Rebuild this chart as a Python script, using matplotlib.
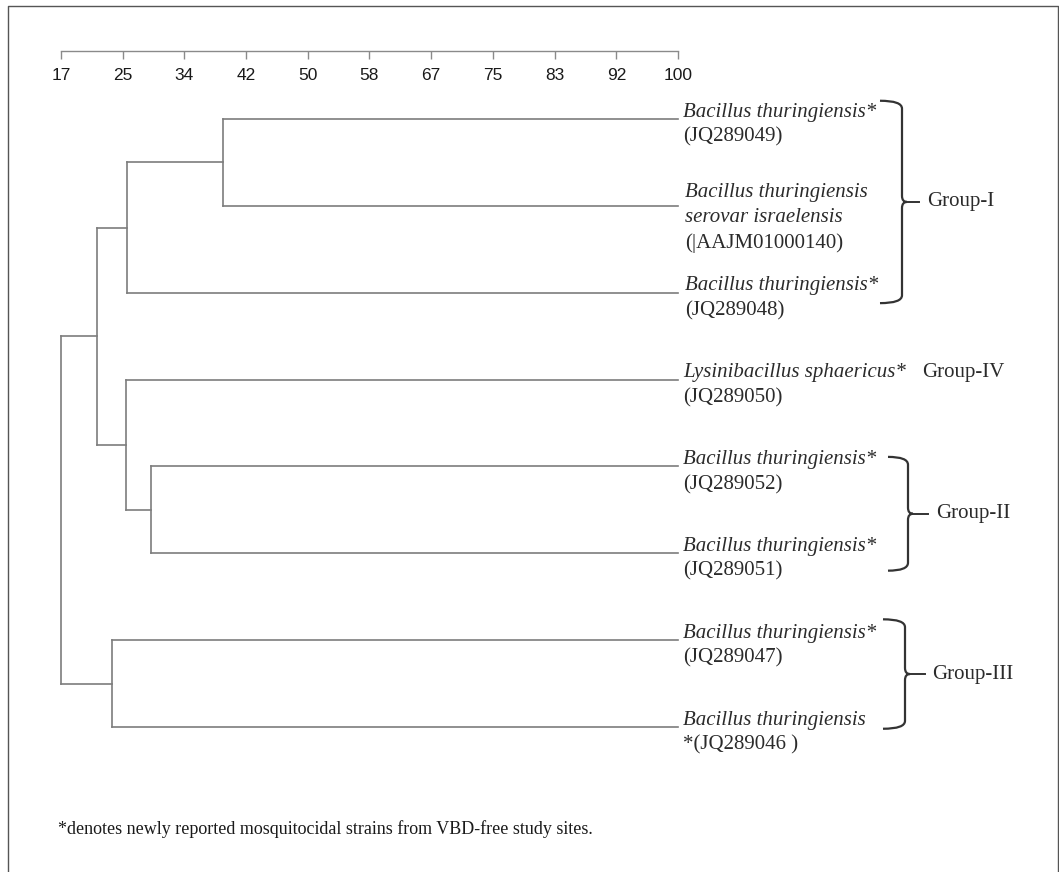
import matplotlib
matplotlib.use("Agg")
import matplotlib.pyplot as plt
from matplotlib.path import Path
from matplotlib.patches import PathPatch
from matplotlib.transforms import blended_transform_factory, offset_copy

# ---------------- data ----------------
tick_values = [16.67, 25.0, 33.33, 41.67, 50.0, 58.33, 66.67, 75.0, 83.33, 91.67, 100.0]
tick_labels = ["17", "25", "34", "42", "50", "58", "67", "75", "83", "92", "100"]

# leaves, top to bottom: (italic lines, roman lines)
leaf_italic = [
    ["Bacillus thuringiensis*"],
    ["Bacillus thuringiensis", "serovar israelensis"],
    ["Bacillus thuringiensis*"],
    ["Lysinibacillus sphaericus*"],
    ["Bacillus thuringiensis*"],
    ["Bacillus thuringiensis*"],
    ["Bacillus thuringiensis*"],
    ["Bacillus thuringiensis"],
]
leaf_roman = [
    "(JQ289049)",
    "(|AAJM01000140)",
    "(JQ289048)",
    "(JQ289050)",
    "(JQ289052)",
    "(JQ289051)",
    "(JQ289047)",
    "*(JQ289046 )",
]
leaf_similarity = 100.0

# merges: (child a, child b, similarity %) ; children >= 8 refer to earlier merges (8 + index)
merge_a = [0, 8, 4, 3, 9, 6, 12]
merge_b = [1, 2, 5, 10, 11, 7, 13]
merge_sim = [38.6, 25.6, 28.8, 25.4, 21.5, 23.5, 16.67]

# groups: label, first leaf, last leaf
group_names = ["Group-I", "Group-II", "Group-III"]
group_first = [0, 4, 6]
group_last = [2, 5, 7]
single_group_name = "Group-IV"
single_group_leaf = 3

footnote = "*denotes newly reported mosquitocidal strains from VBD-free study sites."

# ---------------- figure ----------------
W, H = 1059, 872
fig = plt.figure(figsize=(W / 100, H / 100), dpi=100)
fig.patch.set_facecolor("white")

LINE = "#7d7d7d"
TXT = "#2b2b2b"
SERIF = ["Liberation Serif", "DejaVu Serif"]

# overlay axes in pixel coordinates
ov = fig.add_axes([0, 0, 1, 1])
ov.set_xlim(0, W)
ov.set_ylim(H, 0)
ov.axis("off")

# border (left, top, right)
ov.plot([8, 8, 1058, 1058], [H + 5, 6, 6, H + 5], color="#555555", lw=1.0, clip_on=False)

# main dendrogram axes
x_left, x_right = 61, 678
y_top, y_bot = 51, 760
leaf_top_px, leaf_gap_px = 119, 86.86
ax = fig.add_axes([x_left / W, 1 - y_bot / H, (x_right - x_left) / W, (y_bot - y_top) / H])
ax.set_facecolor("none")
ax.set_xlim(tick_values[0], 100.0)
ax.set_ylim((y_bot - leaf_top_px) / leaf_gap_px, -(leaf_top_px - y_top) / leaf_gap_px)

for s in ["left", "right", "bottom"]:
    ax.spines[s].set_visible(False)
ax.spines["top"].set_color("#8a8a8a")
ax.spines["top"].set_linewidth(1.0)
ax.set_yticks([])
ax.set_xticks(tick_values)
ax.set_xticklabels(tick_labels)
ax.tick_params(axis="x", top=True, bottom=False, labeltop=True, labelbottom=False,
               direction="in", length=6, width=1.0, color="#8a8a8a", pad=-23,
               labelsize=12.5, labelcolor="#1a1a1a")
for lab in ax.get_xticklabels():
    lab.set_family(["Liberation Sans Narrow", "Liberation Sans", "DejaVu Sans"])

# dendrogram lines
nodes = [(leaf_similarity, float(i)) for i in range(len(leaf_roman))]
for a, b, s in zip(merge_a, merge_b, merge_sim):
    xa, ya = nodes[a]
    xb, yb = nodes[b]
    kw = dict(color=LINE, lw=1.2, solid_capstyle="projecting", clip_on=False)
    ax.plot([xa, s], [ya, ya], **kw)
    ax.plot([xb, s], [yb, yb], **kw)
    ax.plot([s, s], [ya, yb], **kw)
    nodes.append((s, (ya + yb) / 2))

# leaf labels
px = 0.72  # points per pixel
LS = 25  # line spacing in pixels
for i, (its, rom) in enumerate(zip(leaf_italic, leaf_roman)):
    lines = [(t, "italic") for t in its] + [(rom, "normal")]
    first = -13 if len(lines) == 3 else -7
    dx = 7 if i in (1, 2) else 5
    for k, (t, st) in enumerate(lines):
        ax.annotate(t, xy=(leaf_similarity, i), xytext=(dx * px, -(first + k * LS) * px),
                    textcoords="offset points", ha="left", va="center", fontsize=15,
                    style=st, family=SERIF, color=TXT, annotation_clip=False)

# braces for groups
bt = blended_transform_factory(ov.transData, ax.transData)
brace_x0 = [880, 888, 883]
brace_x1 = [902, 908, 905]
brace_tip = [919, 928, 925]
brace_pad_top = [-0.21, -0.11, -0.24]
brace_pad_bot = [0.12, 0.2, 0.02]
label_x = [927, 936, 932]
for g, name in enumerate(group_names):
    top = group_first[g] + brace_pad_top[g]
    bot = group_last[g] + brace_pad_bot[g]
    mid = (top + bot) / 2
    x0, x1, xt = brace_x0[g], brace_x1[g], brace_tip[g]
    r = 0.09
    r2 = 0.07
    verts = [(x0, top), (x1, top), (x1, top + r), (x1, mid - r2), (x1, mid), (x1 + 5, mid),
             (x1, mid), (x1, mid + r2), (x1, bot - r), (x1, bot), (x0, bot)]
    codes = [Path.MOVETO, Path.CURVE3, Path.CURVE3, Path.LINETO, Path.CURVE3, Path.CURVE3,
             Path.CURVE3, Path.CURVE3, Path.LINETO, Path.CURVE3, Path.CURVE3]
    patch = PathPatch(Path(verts, codes), transform=bt, fill=False, edgecolor="#333333",
                      lw=1.6, clip_on=False)
    ov.add_patch(patch)
    ov.plot([x1 + 5, xt], [mid, mid], transform=bt, color="#333333", lw=1.4, clip_on=False)
    ov.text(label_x[g], mid, name, transform=bt, ha="left", va="center", fontsize=15,
            family=SERIF, color=TXT)

# Group-IV label aligned with its leaf's first text line
ov.text(922, single_group_leaf, single_group_name,
        transform=offset_copy(bt, fig=fig, x=0, y=7 * px, units="points"),
        ha="left", va="center", fontsize=15, family=SERIF, color=TXT)

# footnote
ov.text(58, 829, footnote, ha="left", va="center", fontsize=13, family=SERIF, color="#1a1a1a")

fig.savefig("out.png", dpi=100, facecolor="white")
